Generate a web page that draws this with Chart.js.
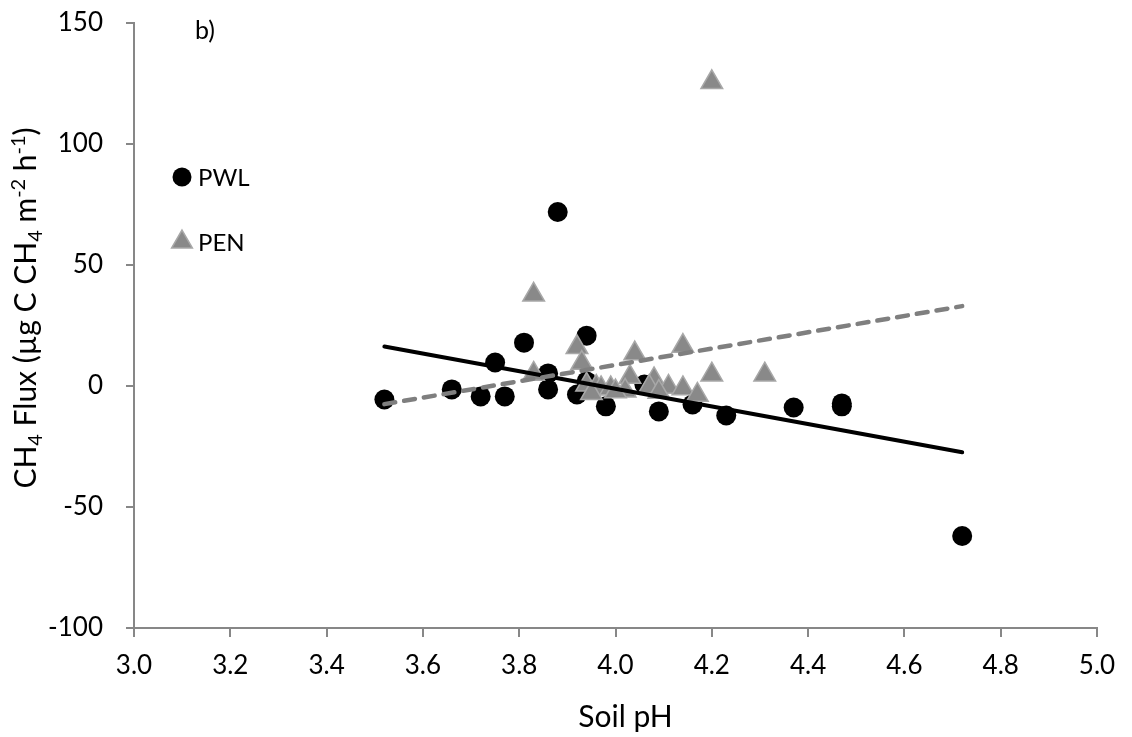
<!DOCTYPE html>
<html>
<head>
<meta charset="utf-8">
<title>CH4 flux vs soil pH</title>
<script src="https://cdn.jsdelivr.net/npm/chart.js@4.4.0/dist/chart.umd.min.js"></script>
<style>
  html, body { margin: 0; padding: 0; background: #fff; }
  #wrap { width: 1132px; height: 737px; position: relative; }
</style>
</head>
<body>
<div id="wrap"><canvas id="fluxChart"></canvas></div>
<script>
// PWL site (black circles)
const pwlPH   = [3.52, 3.66, 3.72, 3.75, 3.77, 3.81, 3.86, 3.86, 3.88, 3.92, 3.94, 3.94, 3.98, 4.06, 4.09, 4.16, 4.23, 4.37, 4.47, 4.47, 4.72];
const pwlFlux = [-5.6, -1.4, -4.3, 9.7, -4.3, 17.9, 5.2, -1.4, 71.9, -3.5, 20.8, 1.9, -8.4, 0.6, -10.5, -7.6, -12.2, -8.9, -7.2, -8.4, -62.0];

// PEN site (grey triangles)
const penPH   = [4.20, 3.83, 3.92, 3.93, 3.83, 4.04, 4.14, 4.20, 4.31, 4.03, 4.08, 4.07, 4.11, 4.14, 4.17, 4.02, 4.09, 3.94, 3.96, 3.97, 3.99, 4.00, 3.95];
const penFlux = [125.5, 37.7, 16.0, 9.5, 5.0, 13.4, 16.5, 4.7, 4.7, 3.7, 2.7, -0.4, -0.4, -1.0, -3.7, -2.0, -2.5, 0.5, -0.4, -1.0, -1.0, -2.3, -3.0];

// linear trend lines (end points)
const trendPH  = [3.52, 4.72];
const pwlTrend = [16.3, -27.4];
const penTrend = [-7.5, 33.0];

const xTickValues = [3.0, 3.2, 3.4, 3.6, 3.8, 4.0, 4.2, 4.4, 4.6, 4.8, 5.0];
const xTickLabels = ['3.0', '3.2', '3.4', '3.6', '3.8', '4.0', '4.2', '4.4', '4.6', '4.8', '5.0'];
const yTickValues = [-100, -50, 0, 50, 100, 150];
const yTickLabels = ['-100', '-50', '0', '50', '100', '150'];

const seriesNames = ['PWL', 'PEN'];
const panelLabel = 'b)';
const xTitle = 'Soil pH';
// y title pieces: [text, 'sub' | 'sup' | '']
const yTitleParts = [
    ['CH', ''], ['4', 'sub'], [' Flux (\u00b5g C CH', ''], ['4', 'sub'],
    [' m', ''], ['-2', 'sup'], [' h', ''], ['-1', 'sup'], [')', '']
];

const FONT = 'Lato, "Open Sans", sans-serif';
const AXIS_GREY = '#878787';

const toPoints = (xs, ys) => xs.map((x, i) => ({ x: x, y: ys[i] }));

const pwlStyle = { pointStyle: 'circle', radius: 10, fill: '#000000', border: '#000000', borderWidth: 0 };
const penStyle = { pointStyle: 'triangle', radius: 12.5, fill: '#898989', border: '#a8a8a8', borderWidth: 1.5 };

const textPlugin = {
    id: 'textPlugin',
    afterDraw(chart) {
        const ctx = chart.ctx;
        const area = chart.chartArea;
        ctx.save();
        ctx.fillStyle = '#000';
        ctx.textBaseline = 'alphabetic';

        // panel label
        ctx.font = '25px ' + FONT;
        ctx.textAlign = 'left';
        ctx.fillText(panelLabel, area.left + 61, area.top + 16);

        // legend inside the plot
        const legendRows = [
            { style: pwlStyle, y: area.top + 154 },
            { style: penStyle, y: area.top + 219 }
        ];
        legendRows.forEach((row, i) => {
            const s = row.style;
            ctx.fillStyle = s.fill;
            ctx.strokeStyle = s.border;
            ctx.lineWidth = s.borderWidth;
            const r = i === 0 ? 9.5 : 12;
            Chart.helpers.drawPoint(ctx, { pointStyle: s.pointStyle, radius: r, rotation: 0, borderWidth: s.borderWidth },
                area.left + 48, row.y);
            ctx.fillStyle = '#000';
            ctx.font = '24px ' + FONT;
            ctx.fillText(seriesNames[i], area.left + 64, row.y + 9);
        });

        // x axis title
        ctx.font = '30px ' + FONT;
        ctx.textAlign = 'center';
        ctx.fillText(xTitle, (area.left + area.right) / 2 + 10, 727);

        // y axis title with sub/superscripts, rotated
        const size = 30;
        const small = Math.round(size * 0.65);
        let total = 0;
        yTitleParts.forEach(p => {
            ctx.font = (p[1] ? small : size) + 'px ' + FONT;
            total += ctx.measureText(p[0]).width;
        });
        ctx.translate(36, 308);
        ctx.rotate(-Math.PI / 2);
        ctx.textAlign = 'left';
        let x = -total / 2;
        yTitleParts.forEach(p => {
            ctx.font = (p[1] ? small : size) + 'px ' + FONT;
            let dy = 0;
            if (p[1] === 'sub') dy = size * 0.2;
            if (p[1] === 'sup') dy = -size * 0.38;
            ctx.fillText(p[0], x, dy);
            x += ctx.measureText(p[0]).width;
        });
        ctx.restore();
    }
};

const axisCommon = {
    grid: { drawOnChartArea: false, drawTicks: true, color: AXIS_GREY, lineWidth: 2 },
    border: { color: AXIS_GREY, width: 2 }
};

const config = {
    type: 'scatter',
    data: {
        datasets: [
            {
                label: 'PEN trend',
                type: 'line',
                data: toPoints(trendPH, penTrend),
                borderColor: '#7f7f7f',
                borderWidth: 4.5,
                borderDash: [11, 9],
                borderCapStyle: 'round',
                pointRadius: 0,
                fill: false,
                order: 0
            },
            {
                label: 'PWL trend',
                type: 'line',
                data: toPoints(trendPH, pwlTrend),
                borderColor: '#000000',
                borderWidth: 4,
                borderCapStyle: 'round',
                pointRadius: 0,
                fill: false,
                order: 1
            },
            {
                label: seriesNames[1],
                data: toPoints(penPH, penFlux),
                pointStyle: penStyle.pointStyle,
                pointRadius: penStyle.radius,
                backgroundColor: penStyle.fill,
                borderColor: penStyle.border,
                borderWidth: penStyle.borderWidth,
                order: 2
            },
            {
                label: seriesNames[0],
                data: toPoints(pwlPH, pwlFlux),
                pointStyle: pwlStyle.pointStyle,
                pointRadius: pwlStyle.radius,
                backgroundColor: pwlStyle.fill,
                borderColor: pwlStyle.border,
                borderWidth: pwlStyle.borderWidth,
                order: 3
            }
        ]
    },
    options: {
        responsive: true,
        maintainAspectRatio: false,
        animation: false,
        devicePixelRatio: 1,
        layout: { padding: { top: 23, right: 35, left: 0, bottom: 0 } },
        plugins: {
            legend: { display: false },
            tooltip: { enabled: false }
        },
        scales: {
            x: {
                type: 'linear',
                min: 3,
                max: 5,
                afterBuildTicks: s => { s.ticks = xTickValues.map(v => ({ value: v })); },
                afterFit: s => { s.height = 109; s.paddingLeft = 0; s.paddingRight = 0; },
                ticks: {
                    callback: (v, i) => xTickLabels[i],
                    font: { family: FONT, size: 26 },
                    color: '#000',
                    padding: 13,
                    maxRotation: 0,
                    autoSkip: false
                },
                grid: Object.assign({}, axisCommon.grid, { tickLength: 9 }),
                border: axisCommon.border
            },
            y: {
                type: 'linear',
                min: -100,
                max: 150,
                afterBuildTicks: s => { s.ticks = yTickValues.map(v => ({ value: v })); },
                afterFit: s => { s.width = 134; s.paddingTop = 0; s.paddingBottom = 0; },
                ticks: {
                    callback: (v, i) => yTickLabels[i],
                    font: { family: FONT, size: 26 },
                    color: '#000',
                    padding: 23,
                    autoSkip: false
                },
                grid: Object.assign({}, axisCommon.grid, { tickLength: 8 }),
                border: axisCommon.border
            }
        }
    },
    plugins: [textPlugin]
};

new Chart(document.getElementById('fluxChart'), config);
</script>
</body>
</html>
